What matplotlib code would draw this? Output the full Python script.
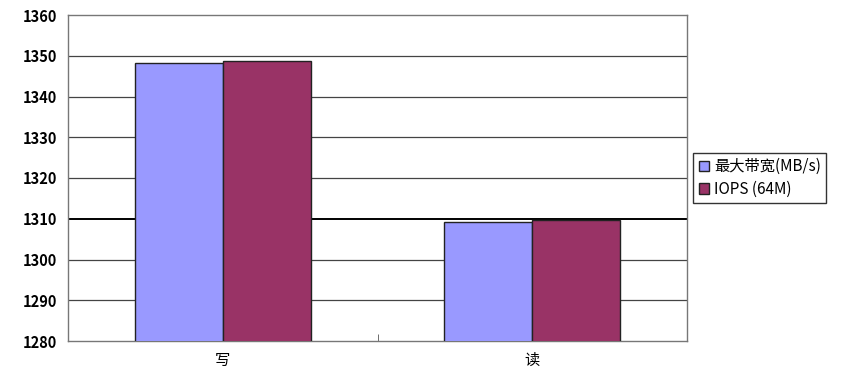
import matplotlib
matplotlib.use('Agg')
import matplotlib.pyplot as plt
import numpy as np

plt.rcParams['font.family'] = ['Noto Sans CJK SC', 'DejaVu Sans']

categories = ['写', '读']
bandwidth = [1348.2, 1309.2]
iops = [1348.8, 1309.6]
series_names = ['最大带宽(MB/s)', 'IOPS (64M)']

fig = plt.figure(figsize=(8.46, 3.74), dpi=100)
ax = fig.add_axes([68 / 846, 1 - 341 / 374, 619 / 846, 326 / 374])

x = np.arange(len(categories))
w = 0.285
ax.bar(x - w / 2, bandwidth, w, color='#9999FF', edgecolor='#222222',
       linewidth=1, label=series_names[0], zorder=3)
ax.bar(x + w / 2, iops, w, color='#993366', edgecolor='#222222',
       linewidth=1, label=series_names[1], zorder=3)

ax.set_xlim(-0.5, 1.5)
ax.set_ylim(1280, 1360)
ax.set_yticks(np.arange(1280, 1361, 10))
ax.set_xticks(x)
ax.set_xticklabels(categories, fontsize=11)
ax.tick_params(axis='x', length=0, pad=8)
ax.tick_params(axis='y', length=0, pad=8, labelsize=10.5)
for t in ax.get_yticklabels():
    t.set_fontweight('bold')
ax.set_xticks([0.5], minor=True)
ax.tick_params(axis='x', which='minor', direction='in', length=5, color='#555555')

# grid lines, 1310 drawn darker like the original
for yv in np.arange(1290, 1360, 10):
    if yv == 1310:
        ax.axhline(yv, color='black', linewidth=1.4, zorder=1)
    else:
        ax.axhline(yv, color='#444444', linewidth=0.9, zorder=1)

for s in ax.spines.values():
    s.set_color('#777777')
    s.set_linewidth(1)

leg = ax.legend(loc='center left', bbox_to_anchor=(1.003, 0.5), frameon=True,
                fancybox=False, edgecolor='black', fontsize=11,
                handlelength=0.7, handleheight=0.7, handletextpad=0.3,
                borderpad=0.35, labelspacing=0.35, borderaxespad=0.3)
leg.get_frame().set_linewidth(1)

fig.savefig('out.png', dpi=100)
